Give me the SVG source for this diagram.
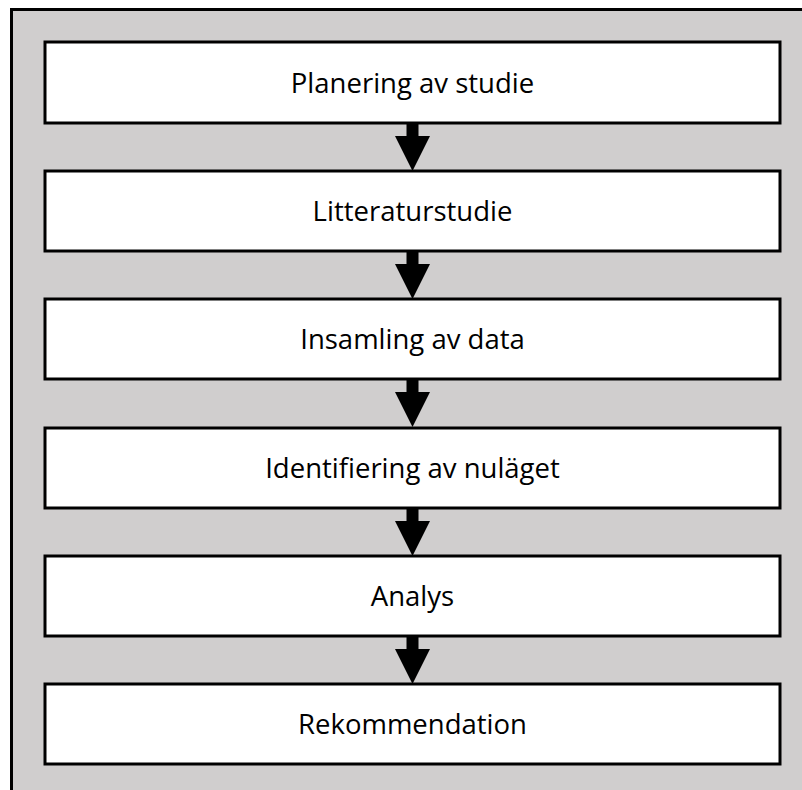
<svg xmlns="http://www.w3.org/2000/svg" width="802" height="790" viewBox="0 0 802 790">
  <style>
    .box { fill: #ffffff; stroke: #000000; stroke-width: 3; }
    .label { font-family: "Open Sans", "Liberation Sans", sans-serif; font-size: 27.5px; fill: #000000; text-anchor: middle; }
    .arrow { fill: #000000; }
  </style>
  <defs>
    <!-- block arrow: shaft 12 wide, head 35 wide; drawn from y=0 down to y=48 -->
    <path id="down" class="arrow" d="M-6,0 H6 V13 H17.5 L0,48 L-17.5,13 H-6 Z"/>
  </defs>
  <!-- background panel -->
  <rect x="11.5" y="9.5" width="800" height="800" fill="#d0cece" stroke="#000000" stroke-width="3"/>

  <g id="connectors">
    <use href="#down" x="412.5" y="123"/>
    <use href="#down" x="412.5" y="251"/>
    <use href="#down" x="412.5" y="379"/>
    <use href="#down" x="412.5" y="508"/>
    <use href="#down" x="412.5" y="636"/>
  </g>

  <g id="n1">
    <rect class="box" x="45" y="42" width="735" height="81"/>
    <text class="label" x="412.5" y="93">Planering av studie</text>
  </g>
  <g id="n2">
    <rect class="box" x="45" y="171" width="735" height="80"/>
    <text class="label" x="412.5" y="221">Litteraturstudie</text>
  </g>
  <g id="n3">
    <rect class="box" x="45" y="299" width="735" height="80"/>
    <text class="label" x="412.5" y="349">Insamling av data</text>
  </g>
  <g id="n4">
    <rect class="box" x="45" y="428" width="735" height="80"/>
    <text class="label" x="412.5" y="478">Identifiering av nuläget</text>
  </g>
  <g id="n5">
    <rect class="box" x="45" y="556" width="735" height="80"/>
    <text class="label" x="412.5" y="606">Analys</text>
  </g>
  <g id="n6">
    <rect class="box" x="45" y="684" width="735" height="80"/>
    <text class="label" x="412.5" y="734">Rekommendation</text>
  </g>
</svg>
